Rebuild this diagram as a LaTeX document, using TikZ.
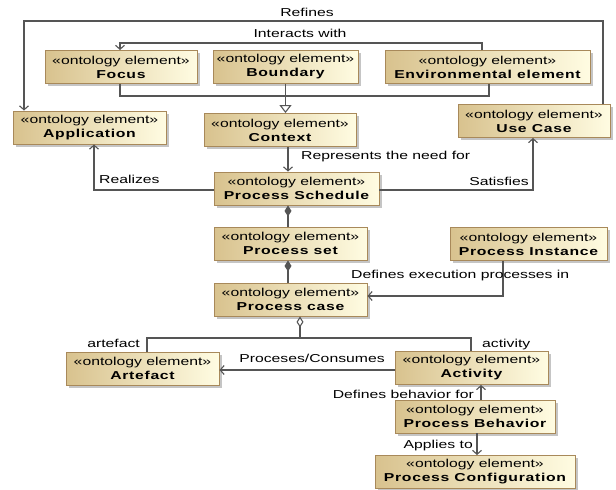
\documentclass[tikz,border=0pt]{standalone}
\usepackage{fontspec}
\setmainfont{Liberation Sans}[FakeStretch=1.37]
\newfontfamily\namefont{Liberation Sans}[FakeStretch=1.37,LetterSpace=6]
\usetikzlibrary{arrows.meta,shadows}

\definecolor{boxleft}{HTML}{D8C28E}
\definecolor{boxright}{HTML}{FFFCE2}
\definecolor{boxedge}{HTML}{A8895A}
\definecolor{wirecol}{HTML}{555555}

\tikzset{
  onto/.style={rectangle, draw=boxedge, line width=0.9pt,
    left color=boxleft, right color=boxright,
    minimum height=33pt, inner sep=0pt, align=center,
    font=\fontsize{11.5}{14}\selectfont,
    drop shadow={shadow xshift=2.5pt, shadow yshift=-2.5pt, fill=black!45, opacity=0.5}},
  wire/.style={draw=wirecol, line width=1.1pt},
  tip/.style={wire, -{Straight Barb[length=4pt,width=9pt]}},
  lbl/.style={font=\fontsize{11.5}{14}\selectfont, inner sep=0pt, text=black},
}
\newcommand{\ontoel}[1]{«ontology element»\\{\namefont\bfseries #1}}

\begin{document}
\begin{tikzpicture}[x=1pt,y=-1pt]
\useasboundingbox (0,0) rectangle (616,490);

% ontology elements
\node[onto, minimum width=152pt] (focus)    at (121,67)    {\ontoel{Focus}};
\node[onto, minimum width=145pt] (boundary) at (285.5,67)  {\ontoel{Boundary}};
\node[onto, minimum width=205pt] (env)      at (487.5,67)  {\ontoel{Environmental element}};
\node[onto, minimum width=153pt] (app)      at (89.5,127.5){\ontoel{Application}};
\node[onto, minimum width=152pt] (context)  at (280,130)   {\ontoel{Context}};
\node[onto, minimum width=152pt] (usecase)  at (534,121)   {\ontoel{Use Case}};
\node[onto, minimum width=165pt] (ps)       at (296.5,188.5){\ontoel{Process Schedule}};
\node[onto, minimum width=153pt] (pset)     at (290.5,243.5){\ontoel{Process set}};
\node[onto, minimum width=157pt] (pinst)    at (528.5,244) {\ontoel{Process Instance}};
\node[onto, minimum width=153pt] (pcase)    at (290.5,299.5){\ontoel{Process case}};
\node[onto, minimum width=153pt] (artefact) at (142.5,368.5){\ontoel{Artefact}};
\node[onto, minimum width=153pt] (activity) at (471.5,368) {\ontoel{Activity}};
\node[onto, minimum width=160pt] (pbeh)     at (475,416.5) {\ontoel{Process Behavior}};
\node[onto, minimum width=200pt] (pconf)    at (475,472)   {\ontoel{Process Configuration}};

% routing points
\coordinate (refL) at (24,21);   \coordinate (refR) at (603,21);
\coordinate (intL) at (120,43);  \coordinate (intR) at (482,43);
\coordinate (genL) at (120,96);  \coordinate (genR) at (489,96);
\coordinate (realL) at (94,190); \coordinate (satR) at (533,190);
\coordinate (xrep) at (288,0);   \coordinate (xcomp) at (288,0);
\coordinate (instC) at (503,296);
\coordinate (aggM) at (300,338); \coordinate (aggL) at (147,338); \coordinate (aggR) at (471,338);
\coordinate (yproc) at (0,370);
\coordinate (xdef) at (481,0);   \coordinate (xapp) at (477,0);

% Refines
\draw[tip] (usecase.north -| refR) -- (refR) -- (refL) -- (app.north -| refL);
% Interacts with
\draw[tip] (env.north -| intR) -- (intR) -- (intL) -- (focus.north -| intL);
% generalization into Context
\draw[wire] (focus.south -| genL) -- (genL) -- (genR) -- (env.south -| genR);
\draw[wire, -{Triangle[fill=white,length=8pt,width=12pt]}] (boundary.south) -- (context.north -| boundary.south);
% Represents the need for
\draw[tip] (context.south -| xrep) -- (ps.north -| xrep);
% Realizes / Satisfies
\draw[tip] (ps.west |- realL) -- (realL) -- (app.south -| realL);
\draw[tip] (ps.east |- satR) -- (satR) -- (usecase.south -| satR);
% compositions
\draw[wire, {Diamond[length=11pt,width=7pt]}-] (ps.south -| xcomp) -- (pset.north -| xcomp);
\draw[wire, {Diamond[length=11pt,width=7pt]}-] (pset.south -| xcomp) -- (pcase.north -| xcomp);
% Defines execution processes in
\draw[tip] (pinst.south -| instC) -- (instC) -- (pcase.east |- instC);
% aggregation of artefact and activity
\draw[wire, {Diamond[fill=white,length=11pt,width=7pt]}-] (pcase.south -| aggM) -- (aggM);
\draw[wire] (artefact.north -| aggL) -- (aggL) -- (aggR) -- (activity.north -| aggR);
% Proceses/Consumes
\draw[tip] (activity.west |- yproc) -- (artefact.east |- yproc);
% Defines behavior for / Applies to
\draw[tip] (pbeh.north -| xdef) -- (activity.south -| xdef);
\draw[tip] (pbeh.south -| xapp) -- (pconf.north -| xapp);

% connector labels
\node[lbl] (lrefines) at (307,12) {Refines};
\node[lbl] (linter) at (300,33) {Interacts with};
\node[lbl, anchor=west] (lrep) at (301,157) {Represents the need for};
\node[lbl, anchor=west] (lreal) at (99,179) {Realizes};
\node[lbl, anchor=east] (lsat) at (529,181) {Satisfies};
\node[lbl, anchor=west] (lexec) at (351,276) {Defines execution processes in};
\node[lbl, anchor=east] (lart) at (140,343) {artefact};
\node[lbl, anchor=west] (lact) at (482,345) {activity};
\node[lbl] (lproc) at (312,358) {Proceses/Consumes};
\node[lbl, anchor=east] (ldef) at (474,394) {Defines behavior for};
\node[lbl, anchor=east] (lapp) at (473,446) {Applies to};
\end{tikzpicture}
\end{document}
